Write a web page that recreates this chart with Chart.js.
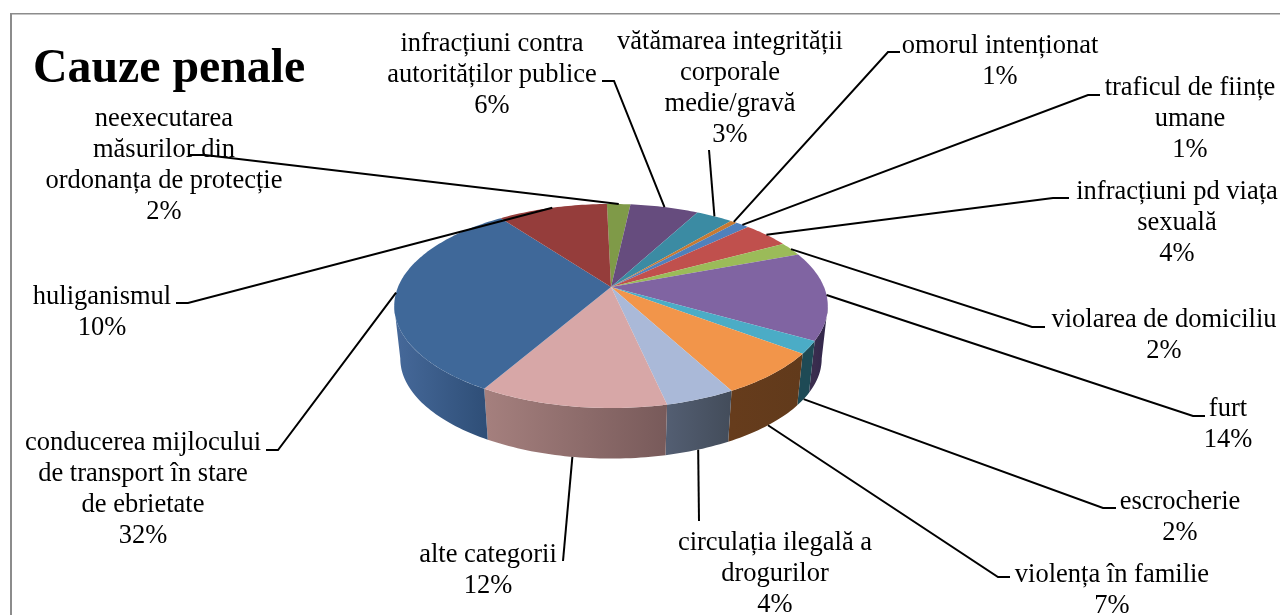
<!DOCTYPE html>
<html lang="ro">
<head>
<meta charset="utf-8">
<title>Cauze penale</title>
<script src="https://cdn.jsdelivr.net/npm/chart.js@4"></script>
<style>
  html, body { margin: 0; padding: 0; background: #fff; overflow: hidden; }
  canvas { display: block; }
</style>
</head>
<body>
<canvas id="pie" width="1280" height="615"></canvas>
<script>
// DATA (clockwise from the top of the pie)
const chartTitle = "Cauze penale";
const categories = [
  "neexecutarea\nmăsurilor din\nordonanța de protecție",
  "infracțiuni contra\nautorităților publice",
  "vătămarea integrității\ncorporale\nmedie/gravă",
  "omorul intenționat",
  "traficul de ființe\numane",
  "infracțiuni pd viața\nsexuală",
  "violarea de domiciliu",
  "furt",
  "escrocherie",
  "violența în familie",
  "circulația ilegală a\ndrogurilor",
  "alte categorii",
  "conducerea mijlocului\nde transport în stare\nde ebrietate",
  "huliganismul"
];
const shares = [2.1, 6.1, 3.3, 0.6, 1.2, 4.2, 2.2, 14.0, 2.0, 6.9, 4.4, 11.8, 31.6, 9.8];

// COLOURS
const topColors = ["#7f9a48", "#664c7e", "#3b8ba3", "#c77a33", "#4f81bd", "#c0504d", "#9bbb59",
  "#8064a2", "#4bacc6", "#f2954a", "#aab9d8", "#d7a7a7", "#3f6899", "#953d3b"];
const wallLeft = ["#4c5c2b", "#3d2d4b", "#235361", "#77491e", "#2f4d71", "#73302e", "#5d7035",
  "#3a2d4e", "#1e4a55", "#663c1c", "#535e72", "#a5807e", "#46699a", "#592422"];
const wallRight = ["#4c5c2b", "#3d2d4b", "#235361", "#77491e", "#2f4d71", "#73302e", "#5d7035",
  "#30254a", "#1e4a55", "#613a1b", "#434c5a", "#785a5a", "#2f4f78", "#592422"];

// LABEL LAYOUT: text centre, first line centre, leader stub (from, elbow, y)
const labelSpots = [
  { x: 164, y: 119.5, stub: [190, 205, 155] },
  { x: 492, y: 44.5, stub: [602, 614, 81] },
  { x: 730, y: 42.5, stub: [709, 709, 150] },
  { x: 1000, y: 46.5, stub: [900, 888, 52] },
  { x: 1190, y: 88.5, stub: [1100, 1088, 95] },
  { x: 1177, y: 192.5, stub: [1069, 1053, 198] },
  { x: 1164, y: 320.5, stub: [1045, 1032, 327] },
  { x: 1228, y: 409.5, stub: [1205, 1193, 416] },
  { x: 1180, y: 502.5, stub: [1116, 1103, 508] },
  { x: 1112, y: 575.5, stub: [1010, 998, 577] },
  { x: 775, y: 543.5, stub: [699, 699, 521] },
  { x: 488, y: 555.5, stub: [563, 563, 561] },
  { x: 143, y: 443.5, stub: [266, 278, 450] },
  { x: 102, y: 297.5, stub: [176, 188, 303] }
];

// PERSPECTIVE OF THE TILTED PIE
const SQUASH = 0.4624;   // height of the disc relative to its radius
const TILT = 0.186;      // how much the near side grows
const DROP = 53;         // wall height
const BASE_SHRINK_X = 0.972;
const BASE_SHRINK_Y = 0.98;
const LINE_H = 30.7;
const LABEL_FONT = '26.5px "Liberation Serif"';

function rimPoint(el, angle) {
  const u = Math.cos(angle), v = Math.sin(angle);
  const d = 1 - TILT * v;
  return {
    x: el.x + el.outerRadius * u / d,
    y: el.y + el.outerRadius * SQUASH * v / d
  };
}

function basePoint(el, angle) {
  const p = rimPoint(el, angle);
  return {
    x: el.x + (p.x - el.x) * BASE_SHRINK_X,
    y: el.y + DROP + (p.y - el.y) * BASE_SHRINK_Y
  };
}

function anglesBetween(from, to) {
  const steps = Math.max(2, Math.ceil((to - from) / 0.02));
  const list = [];
  for (let i = 0; i <= steps; i++) {
    list.push(from + (to - from) * i / steps);
  }
  return list;
}

// Part of a slice's edge that faces the viewer, null if it has none.
// The rim's left and right extremes sit at sin(angle) = TILT.
function frontAngles(el) {
  const turn = Math.PI * 2;
  const lo = Math.asin(TILT), hi = Math.PI - lo;
  for (const shift of [0, -turn, turn]) {
    const from = Math.max(el.startAngle + shift, lo);
    const to = Math.min(el.endAngle + shift, hi);
    if (to > from) return anglesBetween(from, to);
  }
  return null;
}

// Arcs are laid out by Chart.js, only the way they are painted changes
Chart.ArcElement.prototype.draw = function (ctx) {
  ctx.save();
  ctx.beginPath();
  ctx.moveTo(this.x, this.y);
  anglesBetween(this.startAngle, this.endAngle).forEach(a => {
    const p = rimPoint(this, a);
    ctx.lineTo(p.x, p.y);
  });
  ctx.closePath();
  ctx.fillStyle = this.options.backgroundColor;
  ctx.fill();
  ctx.restore();
};

const pie3d = {
  id: "pie3d",
  beforeDatasetsDraw(chart) {
    const ctx = chart.ctx;
    // frame
    ctx.fillStyle = "#8c8c8c";
    ctx.fillRect(10, 13, 2, 602);
    ctx.fillRect(10, 13, 1270, 1.5);

    // walls of the slices on the near side
    chart.getDatasetMeta(0).data.forEach((el, i) => {
      const angles = frontAngles(el);
      if (!angles) return;
      const xs = angles.map(a => rimPoint(el, a).x);
      const grad = ctx.createLinearGradient(Math.min(...xs), 0, Math.max(...xs), 0);
      grad.addColorStop(0, wallLeft[i]);
      grad.addColorStop(1, wallRight[i]);
      ctx.beginPath();
      angles.forEach((a, n) => {
        const p = rimPoint(el, a);
        n ? ctx.lineTo(p.x, p.y) : ctx.moveTo(p.x, p.y);
      });
      angles.slice().reverse().forEach(a => {
        const p = basePoint(el, a);
        ctx.lineTo(p.x, p.y);
      });
      ctx.closePath();
      ctx.fillStyle = grad;
      ctx.fill();
    });
  },
  afterDraw(chart) {
    const ctx = chart.ctx;
    const total = shares.reduce((s, v) => s + v, 0);
    ctx.save();

    // leader lines end on the middle of each slice's edge
    ctx.strokeStyle = "#000";
    ctx.lineWidth = 2;
    chart.getDatasetMeta(0).data.forEach((el, i) => {
      const mid = (el.startAngle + el.endAngle) / 2;
      const end = Math.sin(mid) > 0.3 ? basePoint(el, mid) : rimPoint(el, mid);
      const [from, elbow, y] = labelSpots[i].stub;
      ctx.beginPath();
      ctx.moveTo(from, y);
      ctx.lineTo(elbow, y);
      ctx.lineTo(end.x, end.y);
      ctx.stroke();
    });

    // labels
    ctx.fillStyle = "#000";
    ctx.textAlign = "center";
    ctx.textBaseline = "middle";
    ctx.font = LABEL_FONT;
    categories.forEach((name, i) => {
      const lines = name.split("\n");
      lines.push(Math.round(shares[i] / total * 100) + "%");
      lines.forEach((line, n) => {
        ctx.fillText(line, labelSpots[i].x, labelSpots[i].y + n * LINE_H);
      });
    });

    // title
    ctx.textAlign = "left";
    ctx.textBaseline = "alphabetic";
    ctx.font = 'bold 47.8px "Liberation Serif"';
    ctx.fillText(chartTitle, 33, 82);
    ctx.restore();
  }
};

new Chart(document.getElementById("pie"), {
  type: "pie",
  data: {
    labels: categories,
    datasets: [{
      data: shares,
      backgroundColor: topColors,
      borderWidth: 0
    }]
  },
  options: {
    responsive: false,
    animation: false,
    rotation: -1.3,
    layout: { padding: { left: 398, right: 456, top: 74, bottom: 115 } },
    plugins: {
      legend: { display: false },
      tooltip: { enabled: false },
      title: { display: false }
    }
  },
  plugins: [pie3d]
});
</script>
</body>
</html>
